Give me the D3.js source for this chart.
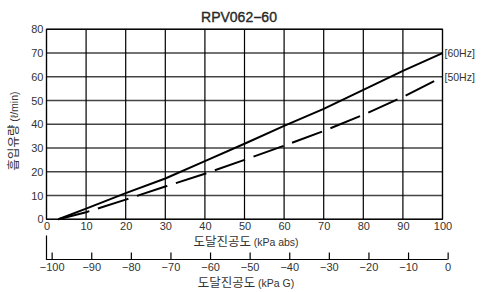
<!DOCTYPE html>
<html>
<head>
<meta charset="utf-8">
<script src="https://cdn.jsdelivr.net/npm/d3@7"></script>
<style>
  body { margin: 0; background: #fff; }
  text { font-family: "Liberation Sans", Arial, sans-serif; fill: #333; }
  .kr { font-family: "Noto Sans CJK KR", sans-serif; }
</style>
</head>
<body>
<svg class="chart" width="482" height="292"></svg>
<script>
// data
var absVac = [3, 10, 20, 30, 40, 50, 60, 70, 80, 90, 100];
var flow60 = [0, 4.5, 11, 17.2, 24.5, 31.8, 39.3, 46.5, 54.5, 62.5, 70];
var flow50 = [0, 3, 8.3, 13.8, 19.2, 25, 31, 37.2, 44, 51.5, 60];
var absTicks = d3.range(0, 101, 10);
var gaugeTicks = d3.range(-100, 1, 10);
var flowTicks = d3.range(0, 81, 10);

var margin = {left: 46.5, top: 29.3},
    width = 442.5 - 46.5,
    height = 219.3 - 29.3;

var x = d3.scaleLinear().domain([0, 100]).range([0, width]);
var y = d3.scaleLinear().domain([0, 80]).range([height, 0]);
// gauge axis is offset from the abs axis (0 kPa G ~ 101.3 kPa abs)
var g = d3.scaleLinear().domain([-100, 0]).range([x(1.3), x(101.3)]);

var svg = d3.select(".chart");
var plot = svg.append("g")
    .attr("transform", "translate(" + margin.left + "," + margin.top + ")");

// grid
plot.selectAll(".hgrid").data(flowTicks).enter().append("line")
    .attr("x1", 0).attr("x2", width)
    .attr("y1", function(d) { return y(d); }).attr("y2", function(d) { return y(d); })
    .attr("stroke", "#444").attr("stroke-width", 1.4);
plot.selectAll(".vgrid").data(absTicks).enter().append("line")
    .attr("y1", 0).attr("y2", height)
    .attr("x1", function(d) { return x(d); }).attr("x2", function(d) { return x(d); })
    .attr("stroke", "#000").attr("stroke-width", 1.2);
plot.append("rect").attr("width", width).attr("height", height)
    .attr("fill", "none").attr("stroke", "#000").attr("stroke-width", 1.2);

// axes labels
var xAxis = plot.append("g")
    .attr("transform", "translate(0," + height + ")")
    .call(d3.axisBottom(x).tickValues(absTicks).tickSize(0).tickPadding(3));
xAxis.select(".domain").remove();
xAxis.selectAll("text").style("font-size", "11px").attr("fill", "#333");

var yAxis = plot.append("g")
    .call(d3.axisLeft(y).tickValues(flowTicks).tickSize(0).tickPadding(3));
yAxis.select(".domain").remove();
yAxis.selectAll("text").style("font-size", "11px").attr("fill", "#333");

// lines
var line = function(vals) {
  return d3.line()
    .x(function(d, i) { return x(absVac[i]); })
    .y(function(d) { return y(d); })(vals);
};
plot.append("path").attr("d", line(flow60))
    .attr("fill", "none").attr("stroke", "#000").attr("stroke-width", 2);
plot.append("path").attr("d", line(flow50))
    .attr("fill", "none").attr("stroke", "#000").attr("stroke-width", 2)
    .attr("stroke-dasharray", "32,9");

plot.append("text").attr("x", width + 2).attr("y", y(70) + 4)
    .style("font-size", "10.5px").text("[60Hz]");
plot.append("text").attr("x", width + 2).attr("y", y(60) + 4)
    .style("font-size", "10.5px").text("[50Hz]");

// gauge axis
var gy = 259.5;
var gAxis = svg.append("g")
    .attr("transform", "translate(" + margin.left + "," + gy + ")")
    .call(d3.axisBottom(g).tickValues(gaugeTicks).tickSizeInner(-7).tickSizeOuter(0).tickPadding(4)
      .tickFormat(function(d) { return d < 0 ? "\u2212" + Math.abs(d) : d; }));
gAxis.select(".domain").attr("d", "M" + x(0) + ",-24V0H" + g(0));
gAxis.selectAll("path, line").attr("stroke", "#000").attr("stroke-width", 1.2);
gAxis.selectAll("text").style("font-size", "11px").attr("fill", "#333");

// titles
svg.append("text").attr("x", 239).attr("y", 22).attr("text-anchor", "middle")
    .style("font-size", "14px").attr("fill", "#111")
    .attr("stroke", "#111").attr("stroke-width", 0.35)
    .text("RPV062\u221260");

var t1 = svg.append("text").attr("x", 246).attr("y", 246).attr("text-anchor", "middle")
    .attr("class", "kr").style("font-size", "12.5px");
t1.append("tspan").text("도달진공도 ");
t1.append("tspan").style("font-size", "10.5px").attr("font-family", "Liberation Sans").text("(kPa abs)");

var t2 = svg.append("text").attr("x", 246).attr("y", 287).attr("text-anchor", "middle")
    .attr("class", "kr").style("font-size", "12.5px");
t2.append("tspan").text("도달진공도 ");
t2.append("tspan").style("font-size", "10.5px").attr("font-family", "Liberation Sans").text("(kPa G)");

var t3 = svg.append("text").attr("transform", "translate(18,131) rotate(-90)")
    .attr("text-anchor", "middle").attr("class", "kr").style("font-size", "12.5px");
t3.append("tspan").text("흡입유량 ");
t3.append("tspan").style("font-size", "10.5px").attr("font-family", "Liberation Sans").text("(ℓ/min)");
</script>
</body>
</html>
